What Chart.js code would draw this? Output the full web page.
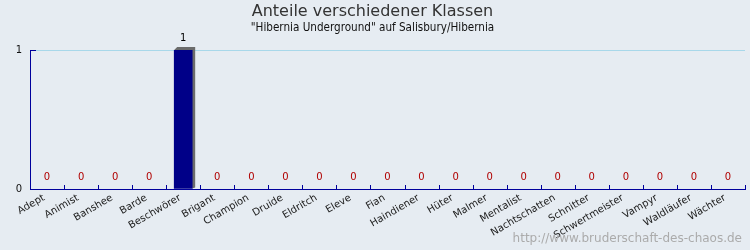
<!DOCTYPE html>
<html>
<head>
<meta charset="utf-8">
<script src="https://cdn.jsdelivr.net/npm/chart.js@4/dist/chart.umd.min.js"></script>
<style>
  html, body { margin: 0; padding: 0; background: #e6ecf2; }
  #wrap { width: 750px; height: 250px; position: relative; }
</style>
</head>
<body>
<div id="wrap"><canvas id="classChart"></canvas></div>
<script>
const classes = ['Adept', 'Animist', 'Banshee', 'Barde', 'Beschwörer', 'Brigant', 'Champion',
    'Druide', 'Eldritch', 'Eleve', 'Fian', 'Haindiener', 'Hüter', 'Malmer', 'Mentalist',
    'Nachtschatten', 'Schnitter', 'Schwertmeister', 'Vampyr', 'Waldläufer', 'Wächter'];
const counts = [0, 0, 0, 0, 1, 0, 0, 0, 0, 0, 0, 0, 0, 0, 0, 0, 0, 0, 0, 0, 0];
const yTicks = [0, 1];

const axisBlue = '#00009c';

// 3D shadow behind bars, value labels, inner tick marks, watermark
const extras = {
    id: 'extras',
    beforeDatasetsDraw(chart) {
        const ctx = chart.ctx;
        const meta = chart.getDatasetMeta(0);
        ctx.save();
        ctx.fillStyle = '#6b6b6b';
        meta.data.forEach((bar, i) => {
            if (!counts[i]) return;
            const l = bar.x - bar.width / 2, r = bar.x + bar.width / 2;
            ctx.beginPath();
            ctx.moveTo(l, bar.y);
            ctx.lineTo(l + 3, bar.y - 3);
            ctx.lineTo(r + 3, bar.y - 3);
            ctx.lineTo(r + 3, bar.base - 1);
            ctx.lineTo(r, bar.base);
            ctx.closePath();
            ctx.fill();
        });
        ctx.restore();
    },
    afterDraw(chart) {
        const ctx = chart.ctx;
        const x = chart.scales.x, y = chart.scales.y;
        const area = chart.chartArea;
        const meta = chart.getDatasetMeta(0);
        ctx.save();
        // ticks pointing into the plot
        ctx.strokeStyle = axisBlue;
        ctx.lineWidth = 1;
        const step = x.getPixelForValue(1) - x.getPixelForValue(0);
        for (let i = 1; i <= classes.length; i++) {
            const px = Math.round(x.getPixelForValue(i) - step / 2) + 0.5;
            ctx.beginPath();
            ctx.moveTo(px, area.bottom);
            ctx.lineTo(px, area.bottom - 4);
            ctx.stroke();
        }
        yTicks.forEach(v => {
            if (v === 0) return;
            const py = Math.round(y.getPixelForValue(v)) + 0.5;
            ctx.beginPath();
            ctx.moveTo(area.left, py);
            ctx.lineTo(area.left + 6, py);
            ctx.stroke();
        });
        // value labels
        ctx.font = '10px "DejaVu Sans"';
        ctx.textAlign = 'center';
        ctx.textBaseline = 'middle';
        meta.data.forEach((bar, i) => {
            ctx.fillStyle = counts[i] ? '#000000' : '#b00000';
            ctx.fillText(String(counts[i]), bar.x, bar.y - 12);
        });
        // watermark
        ctx.font = '12px "DejaVu Sans"';
        ctx.fillStyle = '#ababab';
        ctx.textAlign = 'right';
        ctx.fillText('http://www.bruderschaft-des-chaos.de', 742, 239);
        ctx.restore();
    }
};

new Chart(document.getElementById('classChart'), {
    type: 'bar',
    data: {
        labels: classes,
        datasets: [{
            data: counts,
            backgroundColor: counts.map(v => v ? '#000088' : 'rgba(0,0,0,0)'),
            borderWidth: 0,
            barThickness: 18
        }]
    },
    options: {
        responsive: true,
        maintainAspectRatio: false,
        animation: false,
        layout: { padding: { top: 0, right: 5, left: 0, bottom: 0 } },
        plugins: {
            legend: { display: false },
            tooltip: { enabled: false },
            title: {
                display: true,
                text: 'Anteile verschiedener Klassen',
                color: '#333',
                font: { family: 'DejaVu Sans', size: 16, weight: 'normal', lineHeight: '18px' },
                padding: { top: 3, bottom: 0 }
            },
            subtitle: {
                display: true,
                text: '"Hibernia Underground" auf Salisbury/Hibernia',
                color: '#111',
                font: { family: 'DejaVu Sans Condensed', size: 11.6, lineHeight: '13px' },
                padding: { top: 0, bottom: 16 }
            }
        },
        scales: {
            x: {
                afterFit(scale) { scale.height = 61; },
                grid: { display: false },
                border: { color: axisBlue, width: 1 },
                ticks: {
                    autoSkip: false,
                    minRotation: 30,
                    maxRotation: 30,
                    padding: -5,
                    labelOffset: -3,
                    color: '#222',
                    font: { family: 'DejaVu Sans', size: 10 }
                }
            },
            y: {
                min: 0,
                max: 1,
                afterFit(scale) { scale.width = 30; },
                afterBuildTicks(scale) { scale.ticks = yTicks.map(v => ({ value: v })); },
                grid: { color: '#a8d8ea', drawTicks: false, lineWidth: 1 },
                border: { color: axisBlue, width: 1 },
                ticks: {
                    padding: 8,
                    color: '#111',
                    font: { family: 'DejaVu Sans', size: 10 }
                }
            }
        }
    },
    plugins: [extras]
});
</script>
</body>
</html>
